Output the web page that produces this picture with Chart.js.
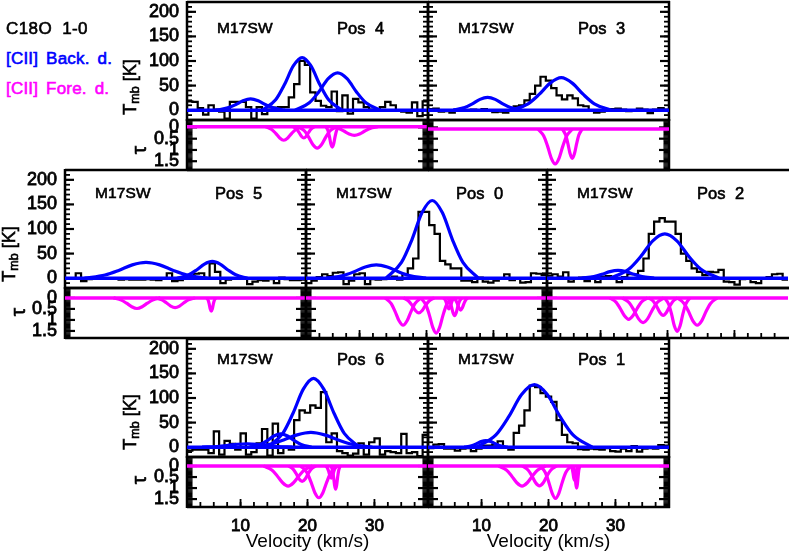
<!DOCTYPE html>
<html><head><meta charset="utf-8">
<style>
html,body{margin:0;padding:0;background:#fff;width:789px;height:551px;overflow:hidden}
#fig{position:relative;width:789px;height:551px;overflow:hidden}
canvas{position:absolute}
.t{position:absolute;font-family:"Liberation Sans",Arial,sans-serif;color:#000;white-space:nowrap;-webkit-text-stroke:.6px currentColor;z-index:5}
.r{transform:translate(-50%,-50%) rotate(-90deg)}
.t sub{font-size:12.5px;vertical-align:-3px;line-height:0}
</style>
<script src="https://cdn.jsdelivr.net/npm/chart.js@4"></script>
</head><body><div id="fig"></div>
<script>
const velocityBins=[2.4,3.2,4,4.8,5.6,6.4,7.2,8,8.8,9.6,10.4,11.2,12,12.8,13.6,14.4,15.2,16,16.8,17.6,18.4,19.2,20,20.8,21.6,22.4,23.2,24,24.8,25.6,26.4,27.2,28,28.8,29.6,30.4,31.2,32,32.8,33.6,34.4,35.2,36,36.8,37.6];
const axisEnds=[2,38];
const velocityTicks=[10,20,30];
const tmbTicks=[0,50,100,150,200];
const tauTicks=[0,0.5,1,1.5];

const pos4Spectrum=[18,17,4,-9,10,1,-3,-17,17,17,17,6,-17,6,-8,1,5,6,6,26,53,100,92,36,19,9,6,38,-2,30,-7,23,16,6,1,-1,6,17,10,-1,-3,-5,16,-12,18];
const pos3Spectrum=[2,3,-3,-2,-5,1,0,0,1,0,2,-1,-4,-3,-5,-1,8,10,20,33,50,68,60,45,30,22,30,24,10,8,0,-5,-3,-1,2,3,1,-2,-1,3,1,-6,1,4,1];
const pos5Spectrum=[-1,-1,10,-6,-2,-1,1,-1,0,0,-3,-2,-3,-3,-3,-2,-3,-4,-1,10,-6,-4,0,1,9,10,-1,30,13,-10,-3,-1,0,-1,-12,-7,-4,-5,-2,-10,1,-2,-4,-4,-3];
const pos0Spectrum=[-10,-5,2,8,4,11,12,-12,-5,8,10,-12,-2,-3,-2,0,3,-3,8,20,40,135,135,108,90,35,28,20,20,-5,-5,-8,1,-7,-9,-5,-1,8,-4,0,-9,-8,10,9,6];
const pos2Spectrum=[5,8,3,12,-7,0,1,-6,2,-8,3,4,2,-8,2,8,8,15,40,90,115,122,115,115,90,50,35,20,13,6,13,12,17,-7,-8,-13,-2,-1,-8,-10,0,2,8,9,-3];
const pos6Spectrum=[-7,-5,-5,-5,-12,32,-15,13,7,-5,28,-15,-10,8,37,-17,48,-12,0,-5,55,75,70,85,80,112,10,28,-8,-12,-17,-13,8,-15,10,18,-15,-8,-10,-12,27,-12,-10,-18,25];
const pos1Spectrum=[-2,5,6,-3,-3,-7,-3,-2,-8,-3,3,3,5,12,0,-5,29,44,75,125,122,110,103,92,55,25,10,8,-4,-5,-3,-4,-5,-2,-8,-9,-3,-8,2,-9,-3,-2,-3,4,3];

const pos4BlueAV=[6.37,8.08,9.22,10.36,11.5,12.64,13.78,14.92,16.63],pos4BlueAY=[0,4.6,11,19,23,19,11,4.6,0];
const pos4BlueBV=[13.26,15.24,16.56,17.88,19.2,20.52,21.84,23.16,25.14],pos4BlueBY=[0,21,52,90,107,90,52,21,0];
const pos4BlueCV=[18.15,20.27,21.68,23.09,24.5,25.91,27.32,28.73,30.85],pos4BlueCY=[0,15,37,64,76,64,37,15,0];
const pos3BlueAV=[5.77,7.48,8.62,9.76,10.9,12.04,13.18,14.32,16.03],pos3BlueAY=[0,5.2,12.7,22,26,22,12.7,5.2,0];
const pos3BlueBV=[14.47,16.95,18.6,20.25,21.9,23.55,25.2,26.85,29.33],pos3BlueBY=[0,13,32,55,66,55,32,13,0];
const pos5BlueAV=[4.92,7.98,10.02,12.06,14.1,16.14,18.18,20.22,23.28],pos5BlueAY=[0,6.4,15.7,27,32,27,15.7,6.4,0];
const pos5BlueBV=[18.73,20.49,21.66,22.83,24,25.17,26.34,27.51,29.27],pos5BlueBY=[0,6.8,16.7,28.6,34,28.6,16.7,6.8,0];
const pos0BlueAV=[5.08,7.55,9.2,10.85,12.5,14.15,15.8,17.45,19.93],pos0BlueAY=[0,5.4,13.2,22.7,27,22.7,13.2,5.4,0];
const pos0BlueBV=[13.96,16.26,17.79,19.32,20.85,22.38,23.91,25.44,27.74],pos0BlueBY=[0,32,77,133,158,133,77,32,0];
const pos2BlueAV=[7.2,9,10.2,11.4,12.6,13.8,15,16.2,18],pos2BlueAY=[0,3.2,7.8,13.4,16,13.4,7.8,3.2,0];
const pos2BlueBV=[11.5,14.2,16,17.8,19.6,21.4,23.2,25,27.7],pos2BlueBY=[0,18,44,76,90,76,44,18,0];
const pos6BlueAV=[4.25,6.5,8,9.5,11,12.5,14,15.5,17.75],pos6BlueAY=[0,1.4,3.4,5.9,7,5.9,3.4,1.4,0];
const pos6BlueBV=[11.41,12.94,13.96,14.98,16,17.02,18.04,19.06,20.59],pos6BlueBY=[0,5.4,13.2,22.7,27,22.7,13.2,5.4,0];
const pos6BlueCV=[11.32,14.38,16.42,18.46,20.5,22.54,24.58,26.62,29.68],pos6BlueCY=[0,6,14.7,25,30,25,14.7,6,0];
const pos6BlueDV=[14.01,16.31,17.84,19.37,20.9,22.43,23.96,25.49,27.79],pos6BlueDY=[0,28,69,118,140,118,69,28,0];
const pos1BlueAV=[7.41,8.49,9.21,9.93,10.65,11.37,12.09,12.81,13.89],pos1BlueAY=[0,2.7,6.6,11.3,13.5,11.3,6.6,2.7,0];
const pos1BlueBV=[9.26,12.14,14.06,15.98,17.9,19.82,21.74,23.66,26.54],pos1BlueBY=[0,25,62,107,127,107,62,25,0];

const pos4TauAV=[13.75,14.65,15.25,15.85,16.45,17.05,17.65,18.25,19.15],pos4TauAY=[0,.12,.29,.5,.6,.5,.29,.12,0];
const pos4TauBV=[17.83,18.37,18.73,19.09,19.45,19.81,20.17,20.53,21.07],pos4TauBY=[0,.1,.25,.42,.5,.42,.25,.1,0];
const pos4TauCV=[18.61,19.56,20.19,20.82,21.45,22.08,22.71,23.34,24.29],pos4TauCY=[0,.19,.47,.8,.95,.8,.47,.19,0];
const pos4TauDV=[22.75,23.07,23.28,23.49,23.7,23.91,24.12,24.33,24.65],pos4TauDY=[0,.18,.44,.76,.9,.76,.44,.18,0];
const pos4TauEV=[23.49,24.66,25.44,26.22,27,27.78,28.56,29.34,30.51],pos4TauEY=[0,.08,.19,.32,.38,.32,.19,.08,0];
const pos3TauAV=[18.43,19.29,19.86,20.43,21,21.57,22.14,22.71,23.57],pos3TauAY=[0,.31,.76,1.3,1.55,1.3,.76,.31,0];
const pos3TauBV=[22.06,22.56,22.89,23.22,23.55,23.88,24.21,24.54,25.04],pos3TauBY=[0,.26,.64,1.09,1.3,1.09,.64,.26,0];
const pos5TauAV=[9.24,10.41,11.19,11.97,12.75,13.53,14.31,15.09,16.26],pos5TauAY=[0,.1,.24,.4,.48,.4,.24,.1,0];
const pos5TauBV=[15.48,16.47,17.13,17.79,18.45,19.11,19.77,20.43,21.42],pos5TauBY=[0,.09,.22,.37,.44,.37,.22,.09,0];
const pos5TauCV=[23.17,23.4,23.55,23.7,23.85,24,24.15,24.3,24.53],pos5TauCY=[0,.12,.29,.5,.6,.5,.29,.12,0];
const pos0TauAV=[13.8,14.7,15.3,15.9,16.5,17.1,17.7,18.3,19.2],pos0TauAY=[0,.25,.61,1.04,1.24,1.04,.61,.25,0];
const pos0TauBV=[16.55,17.32,17.83,18.34,18.85,19.36,19.87,20.38,21.15],pos0TauBY=[0,.14,.33,.57,.68,.57,.33,.14,0];
const pos0TauCV=[19.15,19.92,20.43,20.94,21.45,21.96,22.47,22.98,23.75],pos0TauCY=[0,.32,.78,1.34,1.6,1.34,.78,.32,0];
const pos0TauDV=[22.54,22.81,22.99,23.17,23.35,23.53,23.71,23.89,24.16],pos0TauDY=[0,.1,.25,.42,.5,.42,.25,.1,0];
const pos0TauEV=[23.12,23.48,23.72,23.96,24.2,24.44,24.68,24.92,25.28],pos0TauEY=[0,.16,.39,.67,.8,.67,.39,.16,0];
const pos0TauFV=[24.02,24.38,24.62,24.86,25.1,25.34,25.58,25.82,26.18],pos0TauFY=[0,.11,.27,.46,.55,.46,.27,.11,0];
const pos2TauAV=[11.36,12.31,12.94,13.57,14.2,14.83,15.46,16.09,17.04],pos2TauAY=[0,.19,.48,.81,.97,.81,.48,.19,0];
const pos2TauBV=[13.24,14.28,14.97,15.66,16.35,17.04,17.73,18.42,19.46],pos2TauBY=[0,.22,.55,.94,1.12,.94,.55,.22,0];
const pos2TauCV=[17.19,17.91,18.39,18.87,19.35,19.83,20.31,20.79,21.51],pos2TauCY=[0,.16,.39,.66,.79,.66,.39,.16,0];
const pos2TauDV=[19.56,20.19,20.61,21.03,21.45,21.87,22.29,22.71,23.34],pos2TauDY=[0,.3,.74,1.28,1.52,1.28,.74,.3,0];
const pos2TauEV=[21.48,22.47,23.13,23.79,24.45,25.11,25.77,26.43,27.42],pos2TauEY=[0,.25,.61,1.04,1.24,1.04,.61,.25,0];
const pos6TauAV=[13.45,14.67,15.48,16.29,17.1,17.91,18.72,19.53,20.75],pos6TauAY=[0,.18,.45,.76,.91,.76,.45,.18,0];
const pos6TauBV=[17.17,17.85,18.3,18.75,19.2,19.65,20.1,20.55,21.23],pos6TauBY=[0,.14,.34,.59,.7,.59,.34,.14,0];
const pos6TauCV=[19,19.9,20.5,21.1,21.7,22.3,22.9,23.5,24.4],pos6TauCY=[0,.29,.71,1.21,1.44,1.21,.71,.29,0];
const pos6TauDV=[23.52,23.75,23.9,24.05,24.2,24.35,24.5,24.65,24.88],pos6TauDY=[0,.21,.51,.88,1.05,.88,.51,.21,0];
const pos6TauEV=[22.74,23.01,23.19,23.37,23.55,23.73,23.91,24.09,24.36],pos6TauEY=[0,.11,.27,.46,.55,.46,.27,.11,0];
const pos1TauAV=[12.54,13.71,14.49,15.27,16.05,16.83,17.61,18.39,19.56],pos1TauAY=[0,.18,.45,.76,.91,.76,.45,.18,0];
const pos1TauBV=[16.08,16.94,17.51,18.08,18.65,19.22,19.79,20.36,21.22],pos1TauBY=[0,.18,.44,.76,.9,.76,.44,.18,0];
const pos1TauCV=[18.75,19.52,20.03,20.54,21.05,21.56,22.07,22.58,23.35],pos1TauCY=[0,.29,.72,1.23,1.47,1.23,.72,.29,0];
const pos1TauDV=[23.36,23.54,23.66,23.78,23.9,24.02,24.14,24.26,24.44],pos1TauDY=[0,.13,.32,.55,.65,.55,.32,.13,0];
const pos1TauEV=[23.72,23.88,23.98,24.09,24.2,24.31,24.42,24.52,24.68],pos1TauEY=[0,.2,.49,.84,1,.84,.49,.2,0];

const BLUE='#0000ff',MAG='#ff00ff',W=241;
const zip=(v,y)=>v.map((x,i)=>({x,y:y[i]}));
const panels=[
 {label:'Pos 4',L:187,T:2,mid:120,B:170,tauRange:[-.33,1.89],tauBase:-.03,labels:true,bottom:0,right:1,
  spec:pos4Spectrum,blue:[[pos4BlueAV,pos4BlueAY],[pos4BlueBV,pos4BlueBY],[pos4BlueCV,pos4BlueCY]],
  tau:[[pos4TauAV,pos4TauAY],[pos4TauBV,pos4TauBY],[pos4TauCV,pos4TauCY],[pos4TauDV,pos4TauDY],[pos4TauEV,pos4TauEY]]},
 {label:'Pos 3',L:428,T:2,mid:120,B:170,tauRange:[-.33,1.89],tauBase:.07,labels:false,bottom:0,right:1,
  spec:pos3Spectrum,blue:[[pos3BlueAV,pos3BlueAY],[pos3BlueBV,pos3BlueBY]],
  tau:[[pos3TauAV,pos3TauAY],[pos3TauBV,pos3TauBY]]},
 {label:'Pos 5',L:65,T:170,mid:288,B:338,tauRange:[-.45,1.82],tauBase:0,labels:true,bottom:0,right:1,
  spec:pos5Spectrum,blue:[[pos5BlueAV,pos5BlueAY],[pos5BlueBV,pos5BlueBY]],
  tau:[[pos5TauAV,pos5TauAY],[pos5TauBV,pos5TauBY],[pos5TauCV,pos5TauCY]]},
 {label:'Pos 0',L:306,T:170,mid:288,B:338,tauRange:[-.45,1.82],tauBase:0,labels:false,bottom:1,right:1,
  spec:pos0Spectrum,blue:[[pos0BlueAV,pos0BlueAY],[pos0BlueBV,pos0BlueBY]],
  tau:[[pos0TauAV,pos0TauAY],[pos0TauBV,pos0TauBY],[pos0TauCV,pos0TauCY],[pos0TauDV,pos0TauDY],[pos0TauEV,pos0TauEY],[pos0TauFV,pos0TauFY]]},
 {label:'Pos 2',L:547,T:170,mid:288,B:338,tauRange:[-.45,1.82],tauBase:0,labels:false,bottom:1,right:0,
  spec:pos2Spectrum,blue:[[pos2BlueAV,pos2BlueAY],[pos2BlueBV,pos2BlueBY]],
  tau:[[pos2TauAV,pos2TauAY],[pos2TauBV,pos2TauBY],[pos2TauCV,pos2TauCY],[pos2TauDV,pos2TauDY],[pos2TauEV,pos2TauEY]]},
 {label:'Pos 6',L:187,T:339,mid:457,B:507,tauRange:[-.41,1.86],tauBase:0,labels:true,bottom:1,right:1,xLabels:true,
  spec:pos6Spectrum,blue:[[pos6BlueAV,pos6BlueAY],[pos6BlueBV,pos6BlueBY],[pos6BlueCV,pos6BlueCY],[pos6BlueDV,pos6BlueDY]],
  tau:[[pos6TauAV,pos6TauAY],[pos6TauBV,pos6TauBY],[pos6TauCV,pos6TauCY],[pos6TauDV,pos6TauDY],[pos6TauEV,pos6TauEY]]},
 {label:'Pos 1',L:428,T:339,mid:457,B:507,tauRange:[-.41,1.86],tauBase:0,labels:false,bottom:1,right:1,xLabels:true,
  spec:pos1Spectrum,blue:[[pos1BlueAV,pos1BlueAY],[pos1BlueBV,pos1BlueBY]],
  tau:[[pos1TauAV,pos1TauAY],[pos1TauBV,pos1TauBY],[pos1TauCV,pos1TauCY],[pos1TauDV,pos1TauDY],[pos1TauEV,pos1TauEY]]}
];

const frameTicks={id:'frameTicks',beforeDatasetsDraw(chart,args,o){
  const {ctx,chartArea:a,scales:{x,y}}=chart;
  ctx.save();ctx.strokeStyle='#000';ctx.lineCap='butt';
  const seg=(x0,y0,x1,y1)=>{ctx.beginPath();ctx.moveTo(x0,y0);ctx.lineTo(x1,y1);ctx.stroke();};
  const side=(v,len)=>{const p=y.getPixelForValue(v);
    seg(a.left,p,a.left+len,p);
    if(o.right)seg(a.right,p,a.right-len,p);};
  if(o.kind==='upper'){
    ctx.lineWidth=1.8;
    for(let v=-10;v<=210;v+=10)side(v,5);
    ctx.lineWidth=2.2;
    tmbTicks.forEach(v=>side(v,9));
  }else{
    ctx.lineWidth=1.3;
    for(let v=y.min;v<=y.max;v+=.05)side(v,5.5);
    ctx.lineWidth=2.2;
    tauTicks.forEach(v=>side(v,10));
    if(o.bottom){
      ctx.lineWidth=1.8;
      for(let v=4;v<=36;v+=2)seg(x.getPixelForValue(v),a.bottom,x.getPixelForValue(v),a.bottom-5);
      velocityTicks.forEach(v=>seg(x.getPixelForValue(v),a.bottom,x.getPixelForValue(v),a.bottom-8));
    }
  }
  ctx.lineWidth=2.5;
  seg(a.left,a.top,a.right+(o.right?1:2),a.top);
  seg(a.left,a.bottom,a.right+(o.right?1:2),a.bottom);
  seg(a.left,a.top-1,a.left,a.bottom+1);
  if(o.right)seg(a.right,a.top-1,a.right,a.bottom+1);
  ctx.restore();
}};

const fig=document.getElementById('fig');
const FONT='"Liberation Sans",Arial,sans-serif';
function makeChart(p,kind){
  const top=kind==='upper'?p.T:p.mid, bot=kind==='upper'?p.mid:p.B, H=bot-top;
  const botMargin=(kind==='lower'&&p.xLabels)?46:6;
  const c=document.createElement('canvas');
  c.width=W+72;c.height=H+6+botMargin;
  c.style.left=(p.L-60)+'px';c.style.top=(top-6)+'px';
  fig.appendChild(c);
  const base=kind==='upper'?0:p.tauBase;
  const curve=(pair,color)=>({data:zip(pair[0],pair[1].map(v=>v+base)),borderColor:color,borderWidth:3.2,pointRadius:0,fill:false,cubicInterpolationMode:'monotone',clip:false});
  const baseline={data:zip(axisEnds,[base,base]),borderColor:kind==='upper'?BLUE:MAG,borderWidth:3.5,pointRadius:0,clip:false};
  const datasets=[baseline];
  if(kind==='upper'){
    p.blue.forEach(b=>datasets.push(curve(b,BLUE)));
    const s=zip(velocityBins,p.spec);
    s.unshift({x:axisEnds[0],y:p.spec[0]});s.push({x:axisEnds[1],y:p.spec[p.spec.length-1]});
    datasets.push({data:s,borderColor:'#000',borderWidth:2.2,pointRadius:0,stepped:'middle',clip:false});
  }else{
    p.tau.forEach(b=>datasets.push(curve(b,MAG)));
  }
  const tickList=kind==='upper'?tmbTicks:tauTicks;
  return new Chart(c,{type:'line',data:{datasets},plugins:[frameTicks],options:{
    responsive:false,animation:false,devicePixelRatio:1,
    layout:{padding:{top:6,right:12,left:0,bottom:0}},
    plugins:{legend:{display:false},tooltip:{enabled:false},title:{display:false},
      frameTicks:{kind,right:p.right,bottom:p.bottom}},
    scales:{
      x:{type:'linear',min:axisEnds[0],max:axisEnds[1],grid:{display:false,drawTicks:false},border:{display:false},
        afterBuildTicks:s=>{s.ticks=velocityTicks.map(v=>({value:v}));},
        afterFit:s=>{s.height=botMargin;s.paddingLeft=0;s.paddingRight=0;},
        ticks:{display:kind==='lower'&&!!p.xLabels,autoSkip:false,maxRotation:0,padding:9,color:'#000',
          font:{family:FONT,size:17},textStrokeColor:'#000',textStrokeWidth:.8,callback:v=>String(v)},
        title:{display:kind==='lower'&&!!p.xLabels,text:'Velocity (km/s)',color:'#000',padding:0,font:{family:FONT,size:19}}},
      y:{type:'linear',reverse:kind==='lower',min:kind==='upper'?-20:p.tauRange[0],max:kind==='upper'?220:p.tauRange[1],
        grid:{display:false,drawTicks:false},border:{display:false},
        afterBuildTicks:s=>{s.ticks=tickList.map(v=>({value:v}));},
        afterFit:s=>{s.width=60;s.paddingTop=0;s.paddingBottom=0;},
        ticks:{display:p.labels,padding:8,color:'#000',autoSkip:false,font:{family:FONT,size:18},
          textStrokeColor:'#000',textStrokeWidth:.8,callback:v=>String(v)}}
    }}});
}
panels.forEach(p=>{makeChart(p,'lower');makeChart(p,'upper');});

function text(html,x,y,size,color,extra){
  const d=document.createElement('div');d.className='t';d.innerHTML=html;
  d.style.left=x+'px';d.style.top=y+'px';d.style.fontSize=size+'px';
  d.style.lineHeight='1';d.style.transform='translateY(-50%)';
  if(color)d.style.color=color;
  if(extra)Object.assign(d.style,extra);
  fig.appendChild(d);return d;
}
function rot(html,x,y,size){
  const d=document.createElement('div');d.className='t r';d.innerHTML=html;
  d.style.left=x+'px';d.style.top=y+'px';d.style.fontSize=size+'px';d.style.lineHeight='1';
  fig.appendChild(d);
}
const annotRow={2:28,170:193,339:359};
panels.forEach(p=>{
  const y=annotRow[p.T];
  text('M17SW',p.L+30,y,15.5,null,{letterSpacing:'.1px'});
  text(p.label,p.L+150,y,16.5,null,{wordSpacing:'5px'});
});
text('C18O 1-0',6,28,17,null,{wordSpacing:'5px',letterSpacing:'.4px'});
text('[CII] Back. d.',6,58,17,BLUE,{wordSpacing:'3px',letterSpacing:'.2px'});
text('[CII] Fore. d.',6,88,17,MAG,{wordSpacing:'3px',letterSpacing:'.2px'});
[[130,87],[9,254],[130,422]].forEach(a=>rot('T<sub>mb</sub> [K]',a[0],a[1],18));
[[138,150],[17,312],[138,480]].forEach(a=>rot('τ',a[0],a[1],21));
</script>
</body></html>
